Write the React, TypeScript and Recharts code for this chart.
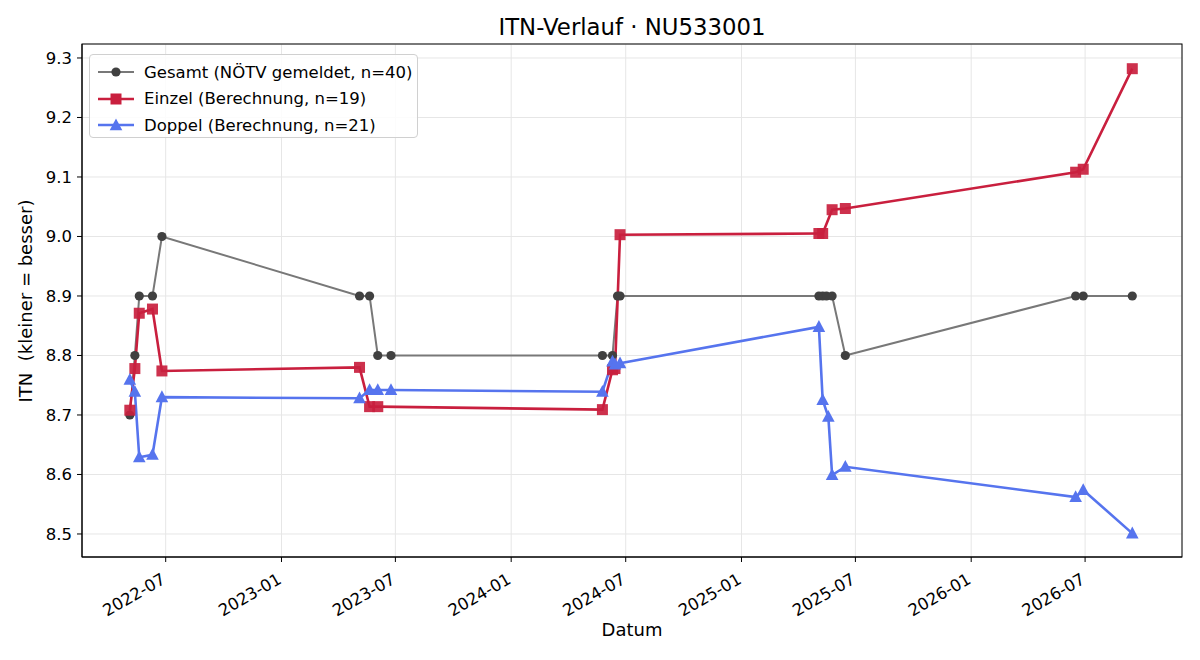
import { LineChart, Line, XAxis, YAxis, CartesianGrid } from 'recharts';

// Gesamt (gemeldet)
const gesamtDates = [
  '2022-05-05', '2022-05-13', '2022-05-20', '2022-06-10', '2022-06-25',
  '2023-05-05', '2023-05-21', '2023-06-03', '2023-06-24',
  '2024-05-25', '2024-06-10', '2024-06-18', '2024-06-22',
  '2025-05-04', '2025-05-10', '2025-05-16', '2025-05-25', '2025-06-15',
  '2026-06-16', '2026-06-28', '2026-09-14',
];
const gesamtValues = [
  8.7, 8.8, 8.9, 8.9, 9.0,
  8.9, 8.9, 8.8, 8.8,
  8.8, 8.8, 8.9, 8.9,
  8.9, 8.9, 8.9, 8.9, 8.8,
  8.9, 8.9, 8.9,
];

// Einzel (Berechnung)
const einzelDates = [
  '2022-05-05', '2022-05-13', '2022-05-20', '2022-06-10', '2022-06-25',
  '2023-05-05', '2023-05-21', '2023-06-03',
  '2024-05-25', '2024-06-10', '2024-06-14', '2024-06-22',
  '2025-05-04', '2025-05-10', '2025-05-25', '2025-06-15',
  '2026-06-16', '2026-06-28', '2026-09-14',
];
const einzelValues = [
  8.708, 8.778, 8.871, 8.878, 8.774,
  8.78, 8.714, 8.714,
  8.709, 8.776, 8.778, 9.003,
  9.005, 9.005, 9.045, 9.047,
  9.108, 9.113, 9.282,
];

// Doppel (Berechnung)
const doppelDates = [
  '2022-05-05', '2022-05-13', '2022-05-20', '2022-06-10', '2022-06-25',
  '2023-05-05', '2023-05-21', '2023-06-03', '2023-06-24',
  '2024-05-25', '2024-06-10', '2024-06-14', '2024-06-22',
  '2025-05-04', '2025-05-10', '2025-05-19', '2025-05-25', '2025-06-15',
  '2026-06-16', '2026-06-28', '2026-09-14',
];
const doppelValues = [
  8.759, 8.739, 8.629, 8.633, 8.73,
  8.728, 8.742, 8.742, 8.742,
  8.739, 8.79, 8.785, 8.787,
  8.848, 8.725, 8.697, 8.599, 8.613,
  8.562, 8.574, 8.501,
];

const xTickDates = [
  '2022-07-01', '2023-01-01', '2023-07-01', '2024-01-01', '2024-07-01',
  '2025-01-01', '2025-07-01', '2026-01-01', '2026-07-01',
];
const yTicks = [8.5, 8.6, 8.7, 8.8, 8.9, 9.0, 9.1, 9.2, 9.3];

const toTs = (d: string) => Date.parse(d + 'T00:00:00Z');
const toRows = (dates: string[], values: number[]) => dates.map((d, i) => ({ t: toTs(d), v: values[i] }));

const gesamt = toRows(gesamtDates, gesamtValues);
const einzel = toRows(einzelDates, einzelValues);
const doppel = toRows(doppelDates, doppelValues);

const xDomain = [toTs('2022-02-18'), toTs('2026-12-02')];
const yDomain = [8.4613, 9.3235];

const colors = {
  gesamtLine: '#787878',
  gesamtDot: '#404040',
  einzel: '#c91f3e',
  doppel: '#5674ee',
  grid: '#e6e6e6',
};
const font = '"DejaVu Sans", sans-serif';

// plot box (matches chart margins + axis sizes below)
const plot = { left: 82, top: 44, right: 1182, bottom: 557 };

const fmtMonth = (ts: number) => {
  const d = new Date(ts);
  return `${d.getUTCFullYear()}-${String(d.getUTCMonth() + 1).padStart(2, '0')}`;
};

function DateTick({ x, y, payload }: any) {
  const px = x - 5;
  const py = y + 8;
  return (
    <text
      x={px}
      y={py}
      transform={`rotate(-30, ${px}, ${py})`}
      textAnchor="end"
      dominantBaseline="hanging"
      fontSize={16.5}
      fontFamily={font}
      fill="#000"
    >
      {fmtMonth(payload.value)}
    </text>
  );
}

const circleDot = (p: any) => <circle key={`g${p.index}`} cx={p.cx} cy={p.cy} r={4.6} fill={colors.gesamtDot} />;
const squareDot = (p: any) => (
  <rect key={`e${p.index}`} x={p.cx - 5.5} y={p.cy - 5.5} width={11} height={11} fill={colors.einzel} fillOpacity={0.92} />
);
const triangleDot = (p: any) => (
  <polygon
    key={`d${p.index}`}
    points={`${p.cx},${p.cy - 6.8} ${p.cx - 6.3},${p.cy + 5} ${p.cx + 6.3},${p.cy + 5}`}
    fill={colors.doppel}
  />
);

function LegendIcon({ kind, color, lineColor }: { kind: string; color: string; lineColor: string }) {
  return (
    <svg width={38} height={14} style={{ display: 'block' }}>
      <line x1={1} y1={7} x2={37} y2={7} stroke={lineColor} strokeWidth={kind === 'circle' ? 2 : 2.6} />
      {kind === 'circle' && <circle cx={19} cy={7} r={4.6} fill={color} />}
      {kind === 'square' && <rect x={13.5} y={1.5} width={11} height={11} fill={color} />}
      {kind === 'triangle' && <polygon points="19,0.5 12.7,12.3 25.3,12.3" fill={color} />}
    </svg>
  );
}

const legendItems = [
  { label: 'Gesamt (NÖTV gemeldet, n=40)', kind: 'circle', color: colors.gesamtDot, lineColor: colors.gesamtLine },
  { label: 'Einzel (Berechnung, n=19)', kind: 'square', color: colors.einzel, lineColor: colors.einzel },
  { label: 'Doppel (Berechnung, n=21)', kind: 'triangle', color: colors.doppel, lineColor: colors.doppel },
];

export default function App() {
  return (
    <div style={{ position: 'relative', width: 1200, height: 660, background: '#fff', fontFamily: font }}>
      <style>{'body{margin:0}'}</style>

      {/* Title */}
      <div
        style={{
          position: 'absolute',
          top: 13,
          left: 82,
          width: 1100,
          textAlign: 'center',
          fontSize: 22.8,
          lineHeight: '28px',
          color: '#000',
        }}
      >
        ITN-Verlauf · NU533001
      </div>

      <LineChart
        width={1200}
        height={660}
        margin={{ top: 44, right: 18, bottom: 23, left: 20 }}
        style={{ position: 'absolute', top: 0, left: 0 }}
      >
        <CartesianGrid stroke={colors.grid} strokeWidth={1} />
        <XAxis
          dataKey="t"
          type="number"
          scale="time"
          domain={xDomain}
          ticks={xTickDates.map(toTs)}
          allowDataOverflow
          height={80}
          tick={<DateTick />}
          tickSize={5}
          tickMargin={2}
          stroke="#000"
        />
        <YAxis
          type="number"
          domain={yDomain}
          ticks={yTicks}
          allowDataOverflow
          width={62}
          tickSize={5}
          tickMargin={5}
          tickFormatter={(v: number) => v.toFixed(1)}
          tick={{ fontSize: 16.5, fontFamily: font, fill: '#000' }}
          stroke="#000"
        />
        <Line
          data={gesamt}
          dataKey="v"
          type="linear"
          stroke={colors.gesamtLine}
          strokeWidth={2}
          dot={circleDot}
          activeDot={false}
          isAnimationActive={false}
        />
        <Line
          data={einzel}
          dataKey="v"
          type="linear"
          stroke={colors.einzel}
          strokeWidth={2.6}
          dot={squareDot}
          activeDot={false}
          isAnimationActive={false}
        />
        <Line
          data={doppel}
          dataKey="v"
          type="linear"
          stroke={colors.doppel}
          strokeWidth={2.6}
          dot={triangleDot}
          activeDot={false}
          isAnimationActive={false}
        />
      </LineChart>

      {/* frame: top and right spines */}
      <svg width={1200} height={660} style={{ position: 'absolute', top: 0, left: 0, pointerEvents: 'none' }}>
        <rect
          x={plot.left}
          y={plot.top}
          width={plot.right - plot.left}
          height={plot.bottom - plot.top}
          fill="none"
          stroke="#000"
          strokeWidth={1}
        />
      </svg>

      {/* Axis labels */}
      <div style={{ position: 'absolute', top: 619, left: 82, width: 1100, textAlign: 'center', fontSize: 18, color: '#000' }}>
        Datum
      </div>
      <div
        style={{
          position: 'absolute',
          left: 25,
          top: 301,
          transform: 'translate(-50%, -50%) rotate(-90deg)',
          fontSize: 18,
          whiteSpace: 'pre',
          color: '#000',
        }}
      >
        {'ITN  (kleiner = besser)'}
      </div>

      {/* Legend */}
      <div
        style={{
          position: 'absolute',
          top: 54,
          left: 89,
          width: 329,
          height: 84,
          boxSizing: 'border-box',
          border: '1px solid #d0d0d0',
          borderRadius: 4,
          background: 'rgba(255,255,255,0.85)',
          padding: '4px 0 0 7px',
        }}
      >
        {legendItems.map((it) => (
          <div key={it.label} style={{ display: 'flex', alignItems: 'center', height: 26.5, gap: 9 }}>
            <LegendIcon kind={it.kind} color={it.color} lineColor={it.lineColor} />
            <span style={{ fontSize: 16.5, color: '#000', whiteSpace: 'nowrap' }}>{it.label}</span>
          </div>
        ))}
      </div>
    </div>
  );
}
